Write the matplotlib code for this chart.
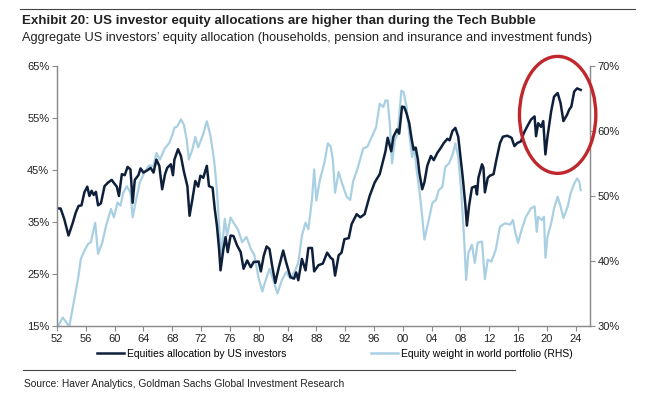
import matplotlib
matplotlib.use('Agg')
import matplotlib.pyplot as plt
from matplotlib.patches import Ellipse
from matplotlib.lines import Line2D

# ===== DANE =====
alloc_years = [1952.0, 1952.5, 1953.0, 1953.6, 1954.2, 1954.6, 1955.0, 1955.4, 1955.8, 1956.2,
               1956.5, 1956.8, 1957.1, 1957.4, 1957.7, 1958.1, 1958.6, 1959.1, 1959.6, 1959.9,
               1960.3, 1960.6, 1961.0, 1961.4, 1961.8, 1962.2, 1962.5, 1962.8, 1963.3, 1963.6,
               1964.0, 1964.6, 1965.0, 1965.4, 1965.8, 1966.2, 1966.6, 1967.0, 1967.3, 1967.8,
               1968.1, 1968.3, 1968.8, 1969.2, 1969.6, 1970.1, 1970.4, 1970.8, 1971.2, 1971.6,
               1971.9, 1972.3, 1972.8, 1973.1, 1973.6, 1973.9, 1974.2, 1974.5, 1974.7, 1975.1,
               1975.4, 1975.7, 1976.1, 1976.5, 1977.0, 1977.5, 1977.9, 1978.4, 1978.9, 1979.3,
               1980.0, 1980.3, 1980.7, 1981.1, 1981.5, 1981.9, 1982.3, 1982.8, 1983.4, 1983.8,
               1984.4, 1984.9, 1985.2, 1985.5, 1986.0, 1986.5, 1986.9, 1987.4, 1987.7, 1988.3,
               1988.9, 1989.5, 1990.0, 1990.3, 1990.6, 1991.1, 1991.5, 1991.9, 1992.5, 1992.9,
               1993.6, 1994.1, 1994.7, 1995.4, 1996.1, 1996.8, 1997.3, 1997.6, 1997.9, 1998.4,
               1998.7, 1999.2, 1999.5, 1999.9, 2000.2, 2000.5, 2000.9, 2001.2, 2001.5, 2001.8,
               2002.1, 2002.3, 2002.7, 2003.0, 2003.4, 2003.9, 2004.3, 2004.8, 2005.3, 2005.7,
               2006.2, 2006.5, 2006.9, 2007.3, 2007.7, 2008.0, 2008.3, 2008.7, 2008.9, 2009.2,
               2009.6, 2010.1, 2010.3, 2010.5, 2011.0, 2011.2, 2011.4, 2011.8, 2012.1, 2012.6,
               2013.0, 2013.5, 2013.9, 2014.5, 2015.1, 2015.5, 2015.9, 2016.4, 2016.8, 2017.4,
               2017.8, 2018.3, 2018.5, 2018.8, 2019.2, 2019.5, 2019.8, 2020.1, 2020.6, 2021.0,
               2021.5, 2021.9, 2022.3, 2022.8, 2023.1, 2023.4, 2023.8, 2024.2, 2024.7]
alloc_vals = [37.6, 37.6, 35.6, 32.4, 34.9, 36.8, 38.1, 38.2, 40.7, 41.8,
              40.0, 41.0, 40.2, 40.8, 38.2, 38.6, 41.9, 42.6, 43.1, 42.5,
              41.8, 40.0, 44.2, 44.0, 45.6, 45.1, 38.7, 43.1, 44.0, 45.3,
              44.5, 45.0, 45.4, 44.5, 47.0, 45.8, 41.3, 44.2, 45.4, 46.1,
              44.0, 47.0, 49.0, 47.7, 44.8, 41.9, 36.2, 39.4, 42.9, 41.8,
              43.9, 43.5, 45.8, 41.9, 41.6, 37.5, 34.3, 29.8, 25.7, 29.8,
              32.1, 29.2, 32.4, 32.3, 30.5, 29.2, 26.0, 27.6, 26.3, 27.3,
              27.4, 25.5, 28.5, 30.3, 29.8, 26.3, 23.3, 26.3, 29.5, 27.3,
              24.4, 24.1, 25.3, 23.8, 27.9, 25.7, 30.0, 30.0, 25.5, 26.7,
              27.0, 29.1, 28.1, 27.8, 24.7, 28.6, 29.1, 31.7, 31.9, 34.6,
              36.5, 35.9, 36.5, 40.0, 42.6, 44.2, 47.0, 48.6, 51.2, 48.6,
              51.4, 52.8, 52.0, 57.2, 57.1, 56.0, 54.0, 51.2, 48.9, 49.3,
              47.0, 44.5, 41.3, 42.6, 45.8, 47.7, 46.9, 48.3, 49.3, 50.2,
              51.0, 50.7, 52.5, 53.1, 51.4, 47.7, 43.9, 38.1, 34.3, 38.1,
              41.6, 41.9, 40.3, 43.5, 46.1, 45.4, 40.7, 43.5, 43.9, 44.2,
              47.0, 50.2, 51.4, 51.6, 51.2, 49.6, 50.2, 50.5, 52.1, 53.7,
              54.7, 55.3, 51.5, 54.0, 53.3, 54.4, 48.0, 51.5, 56.3, 59.1,
              59.8, 57.9, 54.4, 55.6, 56.6, 57.2, 60.1, 60.7, 60.4]

weight_years = [1952.1, 1952.8, 1953.2, 1953.7, 1954.0, 1954.5, 1955.0, 1955.3, 1955.8, 1956.3,
                1956.7, 1957.3, 1957.7, 1958.3, 1958.8, 1959.5, 1959.9, 1960.4, 1960.8, 1961.2,
                1961.7, 1962.2, 1962.5, 1962.9, 1963.5, 1964.1, 1964.8, 1965.4, 1965.8, 1966.3,
                1966.9, 1967.6, 1968.0, 1968.3, 1968.7, 1969.2, 1969.6, 1970.0, 1970.3, 1970.8,
                1971.2, 1971.6, 1972.2, 1972.8, 1973.3, 1973.8, 1974.2, 1974.5, 1974.8, 1975.3,
                1975.6, 1976.1, 1976.5, 1977.1, 1977.7, 1978.3, 1978.9, 1979.4, 1980.0, 1980.5,
                1980.9, 1981.5, 1982.1, 1982.6, 1983.2, 1983.8, 1984.4, 1985.1, 1985.5, 1986.0,
                1986.5, 1986.9, 1987.4, 1987.7, 1988.0, 1988.5, 1989.1, 1989.6, 1990.0, 1990.3,
                1990.6, 1991.1, 1991.5, 1992.2, 1992.7, 1993.1, 1993.8, 1994.5, 1995.1, 1995.7,
                1996.3, 1996.8, 1997.3, 1997.6, 1997.9, 1998.2, 1998.5, 1998.9, 1999.3, 1999.8,
                2000.1, 2000.5, 2000.9, 2001.3, 2001.6, 2001.9, 2002.3, 2002.7, 2003.0, 2003.3,
                2003.7, 2004.1, 2004.6, 2005.0, 2005.5, 2005.9, 2006.4, 2006.9, 2007.3, 2007.7,
                2008.1, 2008.5, 2008.8, 2009.1, 2009.6, 2010.0, 2010.4, 2011.0, 2011.4, 2011.8,
                2012.3, 2012.9, 2013.5, 2014.2, 2014.9, 2015.3, 2015.6, 2016.0, 2016.5, 2017.1,
                2017.8, 2018.3, 2018.6, 2018.8, 2019.3, 2019.6, 2019.8, 2020.1, 2020.6, 2021.0,
                2021.5, 2021.9, 2022.3, 2022.9, 2023.3, 2023.8, 2024.2, 2024.5, 2024.7]
weight_vals = [29.9, 31.3, 30.7, 29.9, 31.7, 34.7, 37.8, 40.3, 41.6, 42.6,
               42.9, 45.9, 41.1, 42.9, 45.4, 48.0, 46.7, 49.0, 48.5, 50.5,
               51.5, 50.5, 46.7, 49.0, 52.1, 53.6, 54.7, 54.6, 56.6, 55.6,
               57.2, 58.2, 59.4, 60.5, 60.7, 61.8, 61.0, 58.7, 55.6, 57.2,
               59.1, 57.5, 59.2, 61.5, 59.3, 55.6, 51.0, 45.4, 40.9, 46.5,
               43.9, 46.7, 45.9, 44.9, 42.9, 43.7, 41.9, 40.9, 37.3, 35.3,
               36.8, 38.8, 36.8, 35.0, 37.0, 38.3, 37.3, 38.6, 39.8, 43.9,
               45.9, 44.9, 49.5, 54.1, 49.3, 52.5, 55.0, 58.1, 57.6, 55.5,
               50.5, 53.7, 52.2, 49.9, 49.4, 52.2, 54.5, 57.3, 57.6, 59.1,
               60.6, 64.2, 63.7, 64.7, 64.7, 61.1, 55.0, 58.6, 59.6, 66.2,
               66.0, 63.9, 59.6, 56.0, 57.6, 54.2, 50.9, 46.8, 43.3, 44.8,
               46.8, 48.9, 49.4, 50.9, 51.4, 54.5, 55.0, 56.3, 58.1, 56.0,
               50.9, 43.8, 37.1, 41.2, 42.5, 39.7, 42.8, 43.0, 37.2, 40.2,
               39.9, 41.7, 45.3, 45.8, 45.6, 46.3, 44.5, 42.8, 44.8, 46.8,
               48.1, 48.4, 44.5, 46.8, 46.3, 46.8, 40.5, 43.8, 45.8, 48.1,
               49.9, 48.4, 46.6, 48.4, 50.4, 51.9, 52.7, 52.2, 50.9]

x_ticks = list(range(1952, 2025, 4))
x_labels = [f"{y % 100:02d}" for y in x_ticks]
left_ticks = [15, 25, 35, 45, 55, 65]
right_ticks = [30, 40, 50, 60, 70]

TITLE = "Exhibit 20: US investor equity allocations are higher than during the Tech Bubble"
SUBTITLE = "Aggregate US investors\u2019 equity allocation (households, pension and insurance and investment funds)"
SOURCE = "Source: Haver Analytics, Goldman Sachs Global Investment Research"

# ===== STYL =====
DARK = '#0e1f3a'
LIGHT = '#a9d0e2'
GREY = '#8c8c8c'
plt.rcParams['font.family'] = ['Liberation Sans', 'DejaVu Sans']

fig = plt.figure(figsize=(6.47, 3.95), dpi=100)
ax = fig.add_axes([0.0881, 0.1747, 0.8239, 0.6582])
ax2 = ax.twinx()

ax2.plot(weight_years, weight_vals, color=LIGHT, linewidth=1.6)
ax.plot(alloc_years, alloc_vals, color=DARK, linewidth=1.8)
ax.set_zorder(ax2.get_zorder() + 1)
ax.patch.set_visible(False)

ax.set_xlim(1952, 2026)
ax.set_ylim(15, 65)
ax2.set_ylim(30, 70)
ax.set_xticks(x_ticks)
ax.set_xticklabels(x_labels)
ax.set_yticks(left_ticks)
ax.set_yticklabels([f"{v}%" for v in left_ticks])
ax2.set_yticks(right_ticks)
ax2.set_yticklabels([f"{v}%" for v in right_ticks])

for a in (ax, ax2):
    a.spines['top'].set_visible(False)
    for s in ('left', 'right', 'bottom'):
        a.spines[s].set_color(GREY)
        a.spines[s].set_linewidth(0.9)
    a.tick_params(axis='both', direction='out', length=3.5, width=0.8, color=GREY,
                  labelsize=8, labelcolor='#222222', pad=2)

# czerwona elipsa
ell = Ellipse((2021.5, 55.6), width=10.6, height=22.5, fill=False,
              edgecolor='#c0272d', linewidth=2.4, clip_on=False, zorder=10)
ax.add_patch(ell)

# ===== TEKSTY =====
fig.add_artist(Line2D([20 / 647, 635 / 647], [1 - 9 / 395, 1 - 9 / 395],
                      color='#444444', linewidth=0.8))
fig.text(22 / 647, 1 - 21 / 395, TITLE, fontweight='bold',
         fontsize=9.6, color='#222222', va='center', ha='left')
fig.text(22 / 647, 1 - 38.5 / 395, SUBTITLE, fontsize=9.2,
         color='#222222', va='center', ha='left')

handles = [Line2D([], [], color=DARK, linewidth=1.8),
           Line2D([], [], color=LIGHT, linewidth=1.8)]
fig.legend(handles, ["Equities allocation by US investors",
                     "Equity weight in world portfolio (RHS)"],
           loc='center', bbox_to_anchor=(0.518, 1 - 354 / 395), ncol=2, frameon=False,
           fontsize=7.5, handlelength=2.6, handletextpad=0.3, columnspacing=8.1)

fig.add_artist(Line2D([23 / 647, 515 / 647], [1 - 370 / 395, 1 - 370 / 395],
                      color='#444444', linewidth=0.8))
fig.text(24 / 647, 1 - 384 / 395, SOURCE, fontsize=7.4,
         color='#222222', va='center', ha='left')

plt.savefig('out.png', dpi=100)
